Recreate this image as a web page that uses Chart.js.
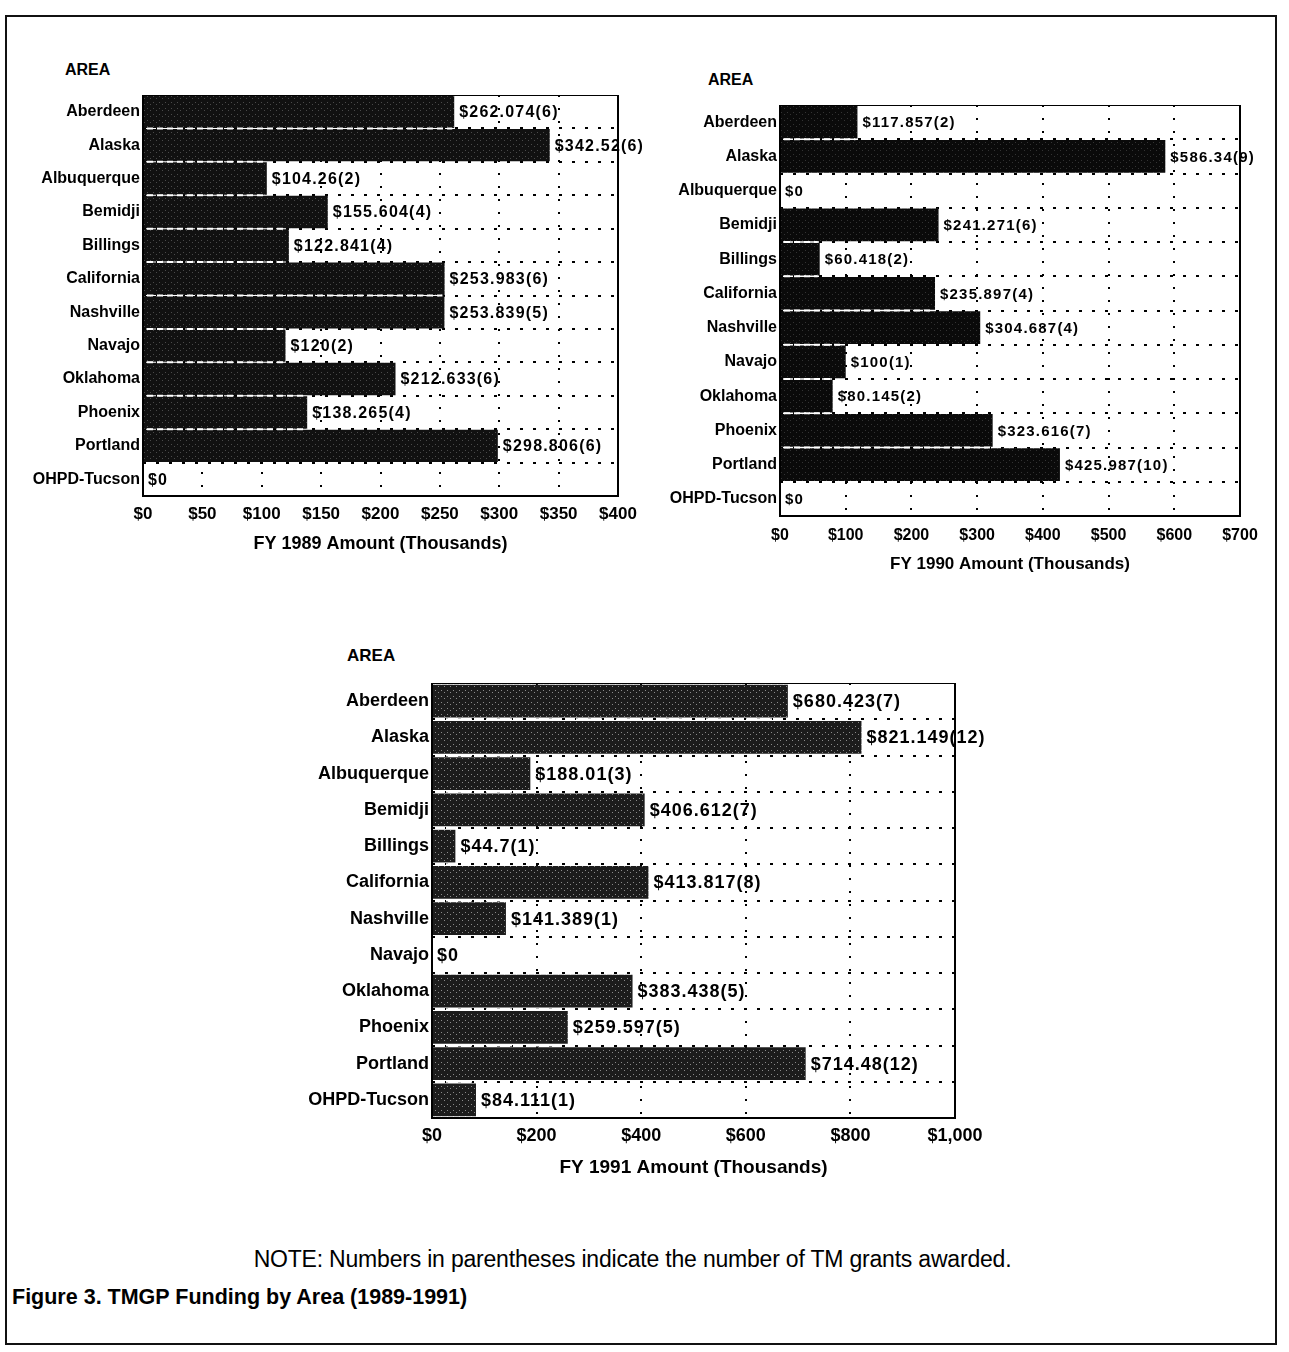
<!DOCTYPE html>
<html>
<head>
<meta charset="utf-8">
<script src="https://cdn.jsdelivr.net/npm/chart.js@4"></script>
<style>
    body { margin: 0; background: #fff; font-family: "Liberation Sans", Arial, sans-serif; }
    #page { position: relative; width: 1289px; height: 1352px; overflow: hidden; }
    .frame { position: absolute; left: 5px; top: 15px; width: 1268px; height: 1326px; border: 2px solid #111; }
    .box { position: absolute; }
    .area { position: absolute; font-weight: bold; font-size: 16px; line-height: 18px; }
    .note { position: absolute; left: 0; width: 1265px; top: 1246px; text-align: center; font-size: 23px; letter-spacing: -0.2px; }
    .caption { position: absolute; left: 12px; top: 1285px; font-weight: bold; font-size: 21.5px; }
</style>
</head>
<body>
<div id="page">
    <div class="frame"></div>

    <div class="area" style="left:65px; top:61px;">AREA</div>
    <div class="box" style="left:20px; top:95px; width:638px; height:460px;"><canvas id="chart1989"></canvas></div>

    <div class="area" style="left:708px; top:71px;">AREA</div>
    <div class="box" style="left:660px; top:105px; width:605px; height:470px;"><canvas id="chart1990"></canvas></div>

    <div class="area" style="left:347px; top:647px; font-size:17px;">AREA</div>
    <div class="box" style="left:290px; top:683px; width:720px; height:496px;"><canvas id="chart1991"></canvas></div>

    <div class="note">NOTE: Numbers in parentheses indicate the number of TM grants awarded.</div>
    <div class="caption">Figure 3. TMGP Funding by Area (1989-1991)</div>
</div>

<script>
const areas = ['Aberdeen', 'Alaska', 'Albuquerque', 'Bemidji', 'Billings', 'California',
               'Nashville', 'Navajo', 'Oklahoma', 'Phoenix', 'Portland', 'OHPD-Tucson'];

// amounts in thousands of dollars, grants awarded in parentheses
const amounts1989 = [262.074, 342.52, 104.26, 155.604, 122.841, 253.983, 253.839, 120, 212.633, 138.265, 298.806, 0];
const grants1989 = [6, 6, 2, 4, 4, 6, 5, 2, 6, 4, 6, 0];

const amounts1990 = [117.857, 586.34, 0, 241.271, 60.418, 235.897, 304.687, 100, 80.145, 323.616, 425.987, 0];
const grants1990 = [2, 9, 0, 6, 2, 4, 4, 1, 2, 7, 10, 0];

const amounts1991 = [680.423, 821.149, 188.01, 406.612, 44.7, 413.817, 141.389, 0, 383.438, 259.597, 714.48, 84.111];
const grants1991 = [7, 12, 3, 7, 1, 8, 1, 0, 5, 5, 12, 1];

const ticks1989 = [0, 50, 100, 150, 200, 250, 300, 350, 400];
const ticks1990 = [0, 100, 200, 300, 400, 500, 600, 700];
const ticks1991 = [0, 200, 400, 600, 800, 1000];

// grainy dark fill, a bit like the halftone bars in the scan
function barPattern(base, speck) {
    const c = document.createElement('canvas');
    c.width = 6;
    c.height = 6;
    const g = c.getContext('2d');
    g.fillStyle = base;
    g.fillRect(0, 0, 6, 6);
    g.fillStyle = speck;
    g.fillRect(1, 1, 1, 1);
    g.fillRect(4, 3, 1, 1);
    return g.createPattern(c, 'repeat');
}

const labelPlugin = {
    id: 'valueLabels',
    afterDatasetsDraw(chart) {
        const ctx = chart.ctx;
        const meta = chart.getDatasetMeta(0);
        const opts = chart.options.plugins.valueLabels;
        const left = chart.chartArea.left;
        ctx.save();

        // white dashes where two neighbouring bars meet
        ctx.strokeStyle = '#fff';
        ctx.lineWidth = 2;
        ctx.setLineDash([6, 4]);
        for (let i = 0; i < meta.data.length - 1; i++) {
            const a = meta.data[i];
            const b = meta.data[i + 1];
            const end = Math.min(a.x, b.x);
            if (end - left > 4) {
                const y = (a.y + b.y) / 2;
                ctx.beginPath();
                ctx.moveTo(left + 4, y);
                ctx.lineTo(end - 2, y);
                ctx.stroke();
            }
        }
        ctx.setLineDash([]);

        ctx.font = opts.font;
        ctx.letterSpacing = opts.spacing;
        ctx.fillStyle = '#000';
        ctx.textBaseline = 'middle';
        meta.data.forEach(function(bar, i) {
            const v = chart.data.datasets[0].data[i];
            const text = v === 0 ? '$0' : '$' + v + '(' + opts.counts[i] + ')';
            ctx.fillText(text, bar.x + 5, bar.y + 1);
        });
        ctx.restore();
    }
};

const boxPlugin = {
    id: 'plotBox',
    afterDraw(chart) {
        const a = chart.chartArea;
        const ctx = chart.ctx;
        ctx.save();
        ctx.strokeStyle = '#000';
        ctx.lineWidth = 2;
        ctx.strokeRect(a.left, a.top, a.right - a.left, a.bottom - a.top);
        ctx.restore();
    }
};

function makeChart(id, values, counts, tickValues, title, cfg) {
    const ctx = document.getElementById(id).getContext('2d');
    return new Chart(ctx, {
        type: 'bar',
        data: {
            labels: areas,
            datasets: [{
                data: values,
                backgroundColor: cfg.fill,
                borderWidth: 0,
                barPercentage: 1,
                categoryPercentage: cfg.barShare
            }]
        },
        plugins: [labelPlugin, boxPlugin],
        options: {
            indexAxis: 'y',
            responsive: true,
            maintainAspectRatio: false,
            animation: false,
            layout: { padding: { top: 0, right: cfg.right, left: 0, bottom: 0 } },
            plugins: {
                legend: { display: false },
                tooltip: { enabled: false },
                valueLabels: { counts: counts, font: cfg.labelFont, spacing: cfg.labelSpacing }
            },
            scales: {
                x: {
                    min: 0,
                    max: tickValues[tickValues.length - 1],
                    afterBuildTicks: function(scale) {
                        scale.ticks = tickValues.map(function(v) { return { value: v }; });
                    },
                    afterFit: function(scale) {
                        scale.height = cfg.xHeight;
                        scale.paddingLeft = 0;
                        scale.paddingRight = 0;
                    },
                    grid: { color: '#000', lineWidth: 2, drawTicks: false },
                    border: { display: false, dash: [2, 11] },
                    ticks: {
                        color: '#000',
                        padding: cfg.tickPad,
                        maxRotation: 0,
                        font: { family: 'Liberation Sans', weight: 'bold', size: cfg.tickSize },
                        callback: function(v) { return '$' + v.toLocaleString('en-US'); }
                    },
                    title: {
                        display: true,
                        text: title,
                        color: '#000',
                        padding: { top: 0, bottom: 0 },
                        font: { family: 'Liberation Sans', weight: 'bold', size: cfg.titleSize }
                    }
                },
                y: {
                    afterFit: function(scale) {
                        scale.width = cfg.yWidth;
                        scale.paddingTop = 0;
                        scale.paddingBottom = 0;
                    },
                    grid: { color: '#000', lineWidth: 2, drawTicks: false },
                    border: { display: false, dash: [3, 10] },
                    ticks: {
                        color: '#000',
                        padding: 3,
                        font: { family: 'Liberation Sans', weight: 'bold', size: cfg.areaSize }
                    }
                }
            }
        }
    });
}

makeChart('chart1989', amounts1989, grants1989, ticks1989, 'FY 1989 Amount (Thousands)', {
    fill: barPattern('#111', '#4a4a4a'), barShare: 0.97,
    right: 40, xHeight: 59, yWidth: 123, tickPad: 8, tickSize: 17, titleSize: 18, areaSize: 16,
    labelFont: 'bold 16px "Liberation Sans"', labelSpacing: '1.2px'
});

makeChart('chart1990', amounts1990, grants1990, ticks1990, 'FY 1990 Amount (Thousands)', {
    fill: barPattern('#0a0a0a', '#333'), barShare: 0.95,
    right: 25, xHeight: 59, yWidth: 120, tickPad: 10, tickSize: 16, titleSize: 17, areaSize: 16,
    labelFont: 'bold 15px "Liberation Sans"', labelSpacing: '1.2px'
});

makeChart('chart1991', amounts1991, grants1991, ticks1991, 'FY 1991 Amount (Thousands)', {
    fill: barPattern('#1c1c1c', '#8a8a8a'), barShare: 0.9,
    right: 55, xHeight: 61, yWidth: 142, tickPad: 7, tickSize: 18, titleSize: 19, areaSize: 18,
    labelFont: 'bold 18px "Liberation Sans"', labelSpacing: '1px'
});
</script>
</body>
</html>
